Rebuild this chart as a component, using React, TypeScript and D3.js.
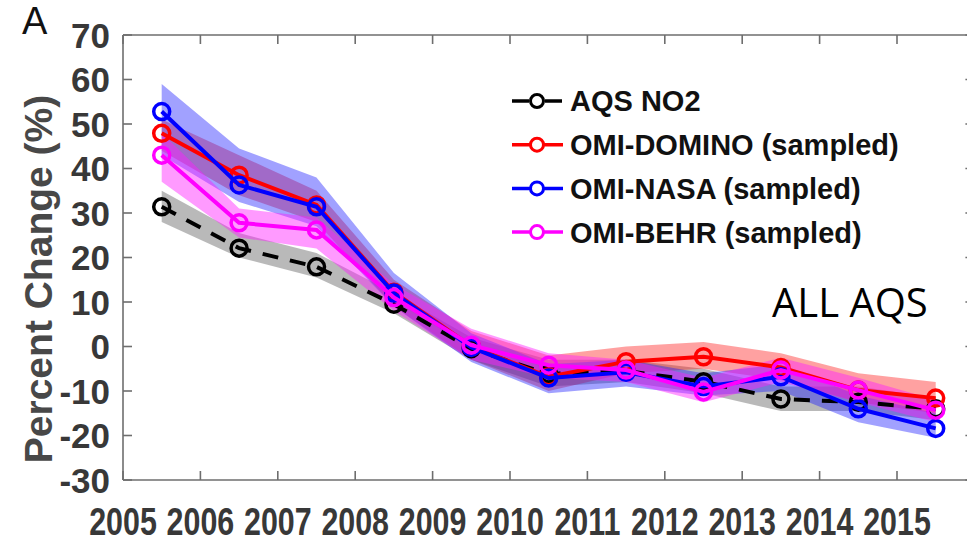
import * as d3 from 'd3';

// x positions are the middle of each year
const years = [2005, 2006, 2007, 2008, 2009, 2010, 2011, 2012, 2013, 2014, 2015];
const xTicks = [2005, 2006, 2007, 2008, 2009, 2010, 2011, 2012, 2013, 2014, 2015];
const yTicks = [70, 60, 50, 40, 30, 20, 10, 0, -10, -20, -30];

const aqs = [31.4, 22.1, 17.9, 9.5, -0.5, -6.2, -5.5, -7.9, -11.8, -12.5, -14];
const aqsLo = [28, 20, 15.5, 7.5, -3, -9, -8, -10.5, -14.5, -14.5, -16.5];
const aqsHi = [35, 25.5, 21, 12, 2, -3, -3, -5, -9, -9, -11.5];

const domino = [47.9, 38.5, 31.8, 12.2, 0, -6.8, -3.4, -2.3, -4.7, -9.8, -11.6];
const dominoLo = [44, 34, 28, 9, -3, -10, -6, -5, -7.5, -12.5, -15];
const dominoHi = [51, 43, 35, 15, 3.5, -2, 0, 1, -1.5, -6, -8];

const nasa = [52.8, 36.3, 31.4, 12, -0.2, -7.1, -5.8, -9, -6.8, -14, -18.4];
const nasaLo = [43, 32.5, 27, 9, -3.5, -10.5, -9, -11, -10, -17, -20.5];
const nasaHi = [59, 44.5, 38, 16.5, 3, -4, -3, -6, -4, -11, -15];

const behr = [43, 27.8, 26.2, 11, 0.3, -4.2, -5.3, -10.2, -5.3, -9.8, -14.3];
const behrLo = [37, 24.5, 22, 8, -3, -7, -8, -12.5, -8, -12.5, -17];
const behrHi = [48, 31, 29, 14, 4, -1.5, -3, -7, -2.5, -7, -12];

const series = [
  { name: 'AQS NO2', vals: aqs, lo: aqsLo, hi: aqsHi, color: '#000', band: '#808080', bandOp: 0.55, dash: '16,12' },
  { name: 'OMI-DOMINO (sampled)', vals: domino, lo: dominoLo, hi: dominoHi, color: '#ff0000', band: '#ff2020', bandOp: 0.42, dash: null },
  { name: 'OMI-NASA (sampled)', vals: nasa, lo: nasaLo, hi: nasaHi, color: '#0000ff', band: '#2020ff', bandOp: 0.42, dash: null },
  { name: 'OMI-BEHR (sampled)', vals: behr, lo: behrLo, hi: behrHi, color: '#ff00ff', band: '#ff20ff', bandOp: 0.45, dash: null },
];
const lineOrder = ['AQS NO2', 'OMI-DOMINO (sampled)', 'OMI-NASA (sampled)', 'OMI-BEHR (sampled)'];

const W = 967;
const H = 542;
const left = 123, top = 35, bottom = 480;

export default function App() {
  const x = d3.scaleLinear().domain([2005, 2016]).range([left, left + 11 * 77.4]);
  const y = d3.scaleLinear().domain([-30, 70]).range([bottom, top]);
  const right = x(2016);
  const font = "'Liberation Sans', Arial, sans-serif";
  const axisColor = '#6e6e6e';

  const line = d3.line<number>().x((_, i) => x(years[i] + 0.5)).y(d => y(d));
  const area = (lo: number[], hi: number[]) =>
    d3.area<number>()
      .x((_, i) => x(years[i] + 0.5))
      .y0((_, i) => y(lo[i]))
      .y1((_, i) => y(hi[i]))(lo);

  const byName = (n: string) => series.find(s => s.name === n)!;

  return (
    <svg width={W} height={H} style={{ position: 'absolute', left: 0, top: 0, background: '#fff' }}>
      <rect width={W} height={H} fill="#fff" />
      <text x={22} y={34} fontFamily={font} fontSize={38} fill="#111">A</text>

      {/* bands */}
      {lineOrder.map(n => {
        const s = byName(n);
        return <path key={'b' + n} d={area(s.lo, s.hi) || ''} fill={s.band} fillOpacity={s.bandOp} stroke="none" />;
      })}

      {/* lines + markers */}
      {lineOrder.map(n => {
        const s = byName(n);
        return (
          <g key={'l' + n}>
            <path d={line(s.vals) || ''} fill="none" stroke={s.color} strokeWidth={4}
              strokeDasharray={s.dash || undefined} />
            {s.vals.map((v, i) => (
              <circle key={i} cx={x(years[i] + 0.5)} cy={y(v)} r={8} fill="none" stroke={s.color} strokeWidth={3.5} />
            ))}
          </g>
        );
      })}

      {/* axes box */}
      <g stroke={axisColor} strokeWidth={1.6} fill="none">
        <line x1={left} x2={right} y1={top} y2={top} />
        <line x1={left} x2={right} y1={bottom} y2={bottom} />
        <line x1={left} x2={left} y1={top} y2={bottom} />
        <line x1={right} x2={right} y1={top} y2={bottom} />
        {xTicks.map(t => (
          <g key={'xt' + t}>
            <line x1={x(t)} x2={x(t)} y1={bottom} y2={bottom - 9} />
            <line x1={x(t)} x2={x(t)} y1={top} y2={top + 9} />
          </g>
        ))}
        {yTicks.map(t => (
          <g key={'yt' + t}>
            <line x1={left} x2={left + 9} y1={y(t)} y2={y(t)} />
            <line x1={right} x2={right - 9} y1={y(t)} y2={y(t)} />
          </g>
        ))}
      </g>

      {yTicks.map(t => (
        <text key={'yl' + t} x={110} y={y(t)} dy="0.36em" textAnchor="end" fontFamily={font}
          fontWeight="bold" fontSize={35} fill="#383838">{t}</text>
      ))}
      {xTicks.map(t => (
        <text key={'xl' + t} transform={`translate(${x(t)},535) scale(0.8,1)`} textAnchor="middle" fontFamily={font}
          fontWeight="bold" fontSize={38} fill="#383838">{t}</text>
      ))}

      <text transform={`translate(52,${279}) rotate(-90)`} textAnchor="middle" fontFamily={font}
        fontWeight="bold" fontSize={39} fill="#484848">Percent Change (%)</text>

      <text x={772} y={317} fontFamily="'Open Sans', sans-serif" fontSize={40} fill="#000">ALL AQS</text>

      {/* legend */}
      {lineOrder.map((n, i) => {
        const s = byName(n);
        const ly = 101 + i * 43.7;
        return (
          <g key={'lg' + n}>
            {s.dash ? (
              <g stroke={s.color} strokeWidth={3.5}>
                <line x1={512} x2={529} y1={ly} y2={ly} />
                <line x1={545} x2={562} y1={ly} y2={ly} />
              </g>
            ) : (
              <line x1={512} x2={563} y1={ly} y2={ly} stroke={s.color} strokeWidth={3.5} />
            )}
            <circle cx={537} cy={ly} r={6.5} fill="#fff" stroke={s.color} strokeWidth={3} />
            <text x={570} y={ly} dy="0.36em" fontFamily={font} fontWeight="bold" fontSize={29} fill="#111">{n}</text>
          </g>
        );
      })}
    </svg>
  );
}
